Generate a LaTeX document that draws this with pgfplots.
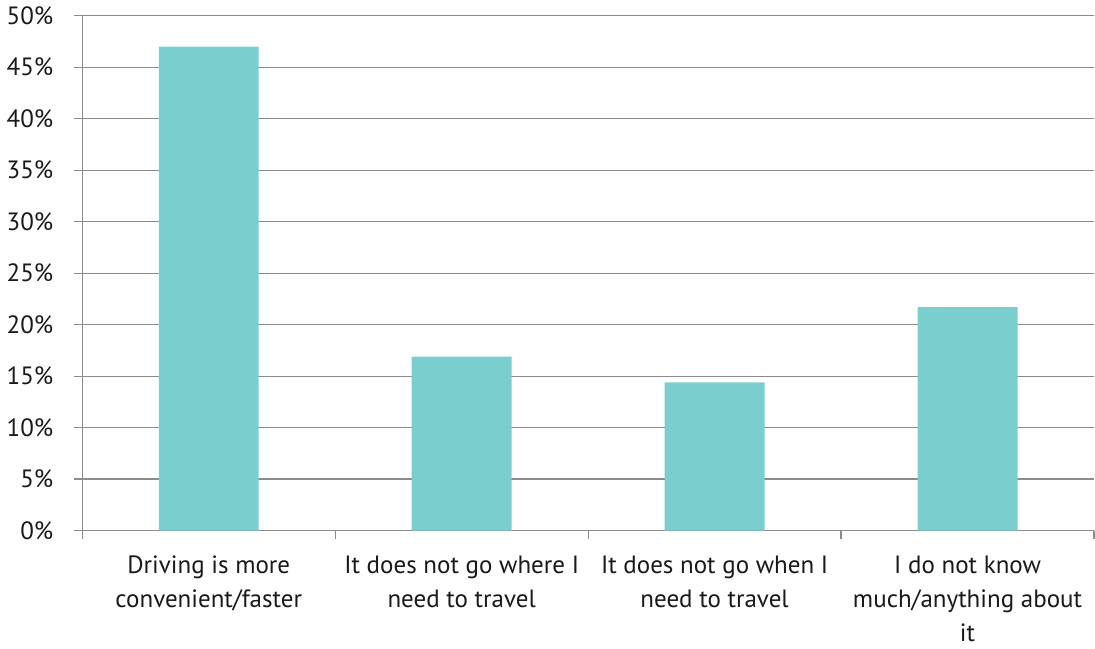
\documentclass[border=0pt]{standalone}
\usepackage{fontspec}
\setmainfont{PT Sans}
\usepackage{pgfplots}
\pgfplotsset{compat=1.18}
\definecolor{barc}{HTML}{7ACECE}
\definecolor{gridc}{HTML}{8C8C8C}
\begin{document}
\begin{tikzpicture}
\begin{axis}[
  scale only axis, width=506pt, height=257.5pt,
  xmin=-0.5, xmax=3.5, ymin=0, ymax=50,
  axis x line*=bottom, axis y line*=left,
  axis line style={gridc, line width=0.6pt},
  tick align=outside,
  ytick={0,5,...,50},
  yticklabel={\pgfmathprintnumber{\tick}\%},
  yticklabel style={xshift=-7pt},
  ymajorgrids, grid style={gridc, line width=0.6pt},
  y tick style={draw=gridc, line width=0.6pt},
  major tick length=4pt,
  xtick={0,1,2,3},
  xticklabels={{Driving is more\\convenient/faster},{It does not go where I\\need to travel},{It does not go when I\\need to travel},{I do not know\\much/anything about\\it}},
  x tick style={draw=none},
  extra x ticks={-0.5,0.5,1.5,2.5,3.5},
  extra x tick labels={},
  extra x tick style={x tick style={draw=gridc, line width=0.6pt}, xmajorgrids=false, xticklabel style={inner sep=0pt}},
  xticklabel style={align=center, yshift=-5pt},
  ticklabel style={font=\fontsize{12.5}{17}\selectfont, text=black!90},
  /pgf/number format/assume math mode=true,
]
\addplot[ybar, bar width=50pt, fill=barc, draw=none] coordinates {(0,47.0) (1,16.9) (2,14.4) (3,21.7)};
\end{axis}
\end{tikzpicture}
\end{document}
